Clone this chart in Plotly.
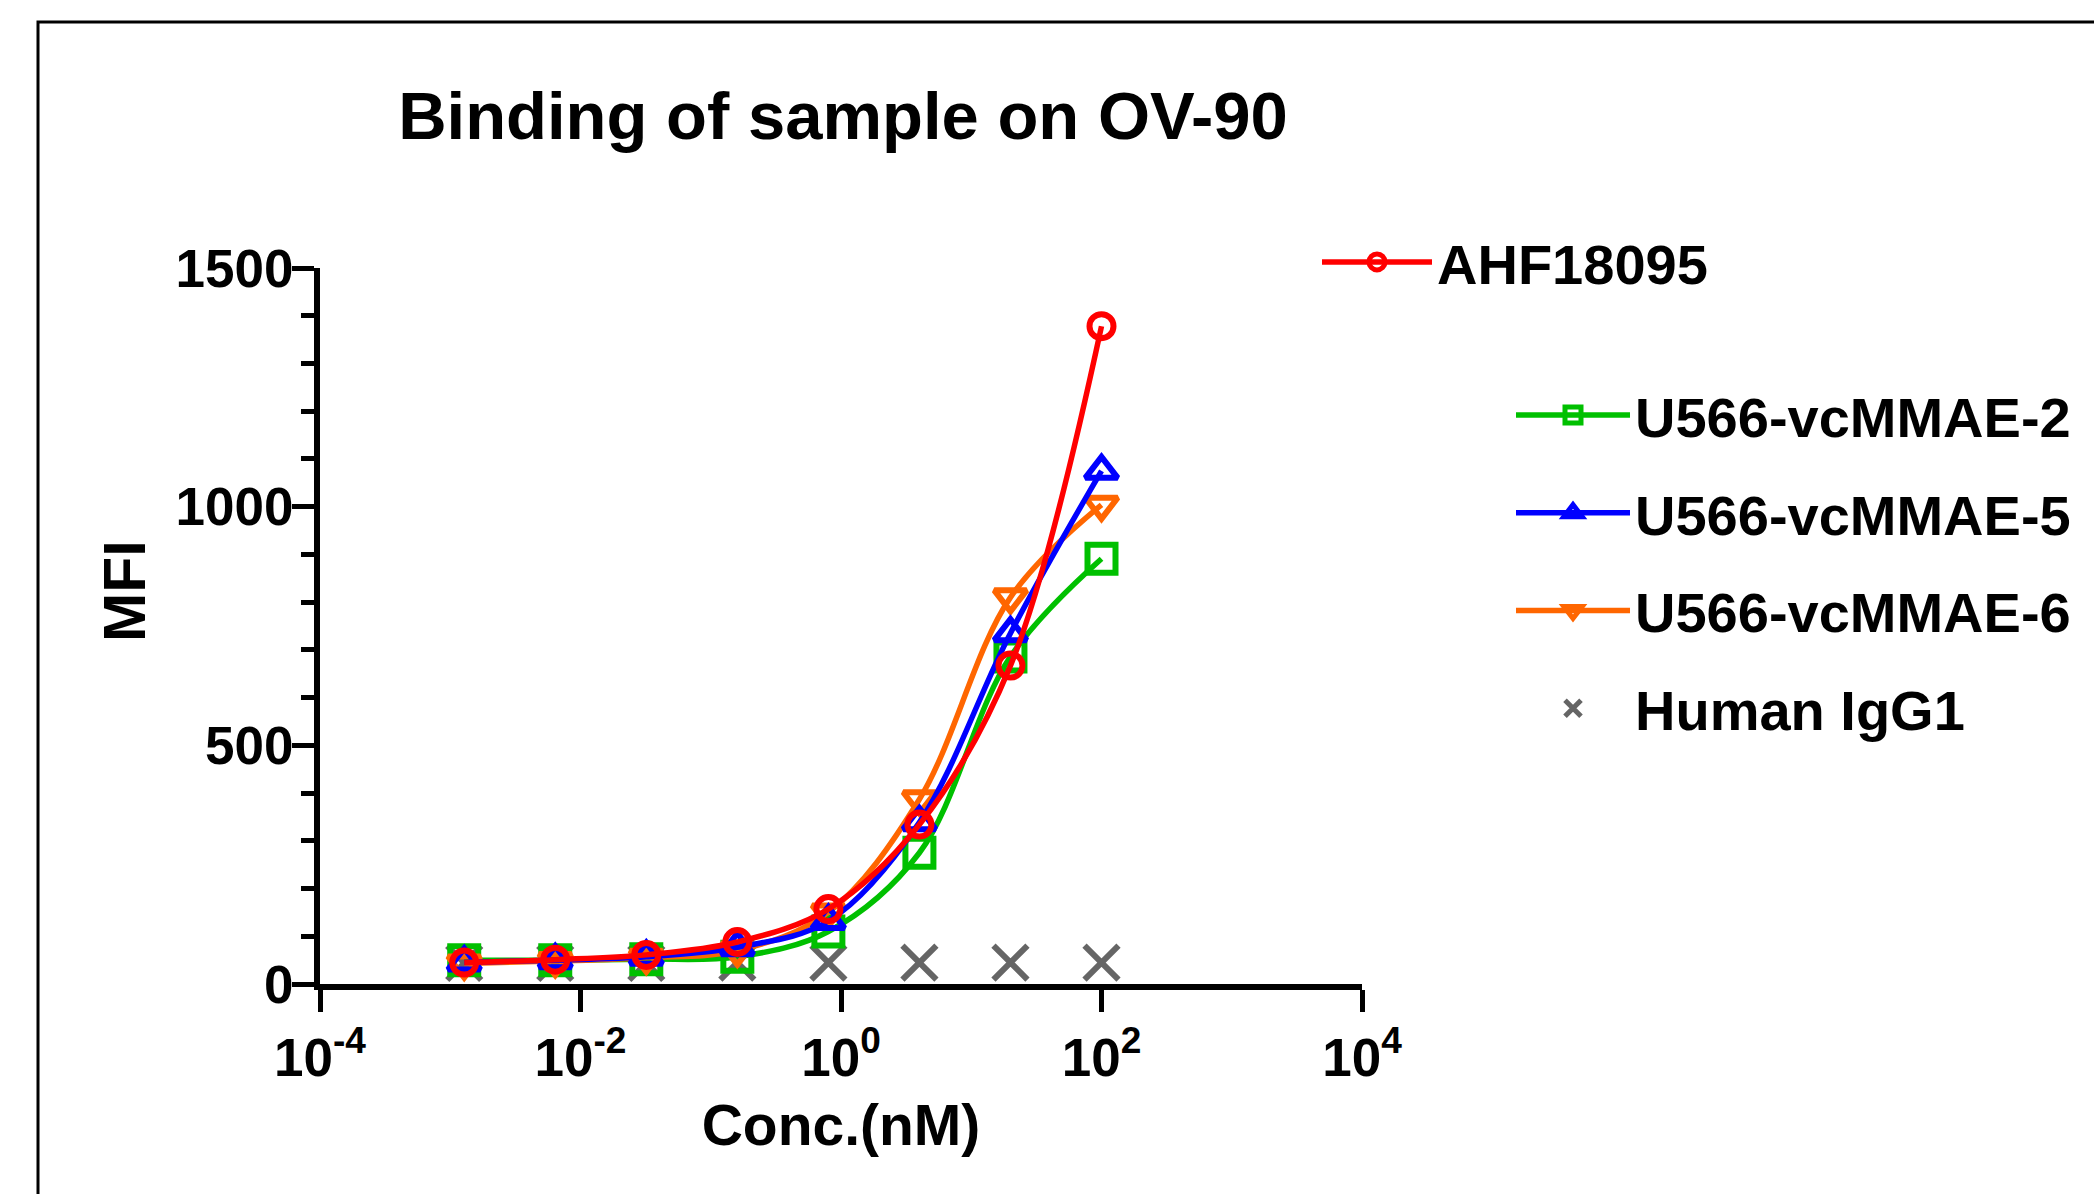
import plotly.graph_objects as go

# ---------------- data ----------------
conc = [0.00128, 0.0064, 0.032, 0.16, 0.8, 4, 20, 100]
ahf18095 = [45, 51, 61, 88, 157, 334, 667, 1378]
u566_2 = [50, 50, 52, 57, 110, 275, 686, 891]
u566_5 = [45, 50, 57, 77, 132, 339, 735, 1075]
u566_6 = [43, 48, 55, 70, 150, 387, 810, 1004]
human_igg1 = [44, 44, 44, 45, 45, 45, 45, 45]

x_tickvals = [1e-4, 1e-2, 1, 1e2, 1e4]
x_ticktext = ["10<sup>-4</sup>", "10<sup>-2</sup>", "10<sup>0</sup>", "10<sup>2</sup>", "10<sup>4</sup>"]
y_tickvals = [0, 500, 1000, 1500]

# ---------------- layout constants ----------------
W, H = 2094, 1194
ML, MR, MT, MB = 320, 732, 268, 210
PW = W - ML - MR
PH = H - MT - MB
FONT = "Liberation Sans, Arial, sans-serif"


def px_x(p):
    return (p - ML) / PW


def px_y(p):
    return (H - MB - p) / PH


fig = go.Figure()

# Human IgG1: markers only
fig.add_trace(go.Scatter(
    x=conc, y=human_igg1, name="Human IgG1", mode="markers",
    marker=dict(symbol="x-thin-open", size=34, color="#656565",
                line=dict(width=6, color="#656565")),
    legend="legend2", legendrank=4, cliponaxis=False,
))

series = [
    ("U566-vcMMAE-2", u566_2, "#00C000", "square-open", 28, "legend2", 1),
    ("U566-vcMMAE-6", u566_6, "#FF6600", "triangle-down-open", 28, "legend2", 3),
    ("U566-vcMMAE-5", u566_5, "#0000FF", "triangle-up-open", 28, "legend2", 2),
    ("AHF18095", ahf18095, "#FF0000", "circle-open", 24, "legend", 1),
]
for name, vals, col, sym, sz, leg, rank in series:
    fig.add_trace(go.Scatter(
        x=conc, y=vals, name=name, mode="lines+markers",
        line=dict(color=col, width=5.5, shape="spline", smoothing=1.0),
        marker=dict(symbol=sym, size=sz, color=col, line=dict(width=6, color=col)),
        legend=leg, legendrank=rank, legendgroup=name, cliponaxis=False,
    ))

axis_font = dict(family=FONT, size=53, color="black", weight="bold")
legend_font = dict(family=FONT, size=56, color="black", weight="bold")

fig.update_layout(
    width=W, height=H,
    margin=dict(l=ML, r=MR, t=MT, b=MB, autoexpand=False),
    paper_bgcolor="white", plot_bgcolor="white",
    font=dict(family=FONT, color="black"),
    title=dict(
        text="Binding of sample on OV-90",
        font=dict(family=FONT, size=67, color="black", weight="bold"),
        x=843 / W, xanchor="center", xref="container",
        y=1 - 116 / H, yanchor="middle", yref="container",
    ),
    xaxis=dict(
        type="log", range=[-4, 4],
        tickvals=x_tickvals, ticktext=x_ticktext,
        showline=True, linewidth=6, linecolor="black",
        ticks="outside", ticklen=22, tickwidth=5, tickcolor="black",
        showgrid=False, zeroline=False,
        tickfont=axis_font,
        title=dict(text="Conc.(nM)", standoff=22,
                   font=dict(family=FONT, size=57, color="black", weight="bold")),
    ),
    yaxis=dict(
        range=[0, 1500], tickvals=y_tickvals,
        showline=True, linewidth=6, linecolor="black",
        ticks="outside", ticklen=22, tickwidth=5, tickcolor="black",
        minor=dict(dtick=100, ticks="outside", ticklen=13, tickwidth=5, tickcolor="black"),
        showgrid=False, zeroline=False,
        tickfont=axis_font, ticklabelstandoff=-12,
    ),
    legend=dict(
        x=px_x(1317), y=px_y(219), xanchor="left", yanchor="top",
        font=legend_font, itemwidth=110,
        bgcolor="rgba(0,0,0,0)", borderwidth=0,
    ),
    legend2=dict(
        x=px_x(1511), y=px_y(372), xanchor="left", yanchor="top",
        font=legend_font, itemwidth=114,
        bgcolor="rgba(0,0,0,0)", borderwidth=0,
        traceorder="grouped", tracegroupgap=22,
    ),
    showlegend=True,
)

# y-axis title placed as in the reference (above the axis centre)
fig.add_annotation(
    text="MFI", textangle=-90, showarrow=False,
    xref="paper", yref="paper", x=px_x(125), y=px_y(591),
    xanchor="center", yanchor="middle",
    font=dict(family=FONT, size=59, color="black", weight="bold"),
)

# outer frame (cropped panel border)
fig.add_shape(
    type="rect", xref="paper", yref="paper",
    x0=px_x(38), x1=px_x(W + 20), y0=px_y(H + 20), y1=px_y(22),
    line=dict(color="black", width=3), fillcolor="rgba(0,0,0,0)", layer="above",
)

fig.write_html("out.html", config={"displayModeBar": False},
               post_script="document.body.style.margin='0';")
